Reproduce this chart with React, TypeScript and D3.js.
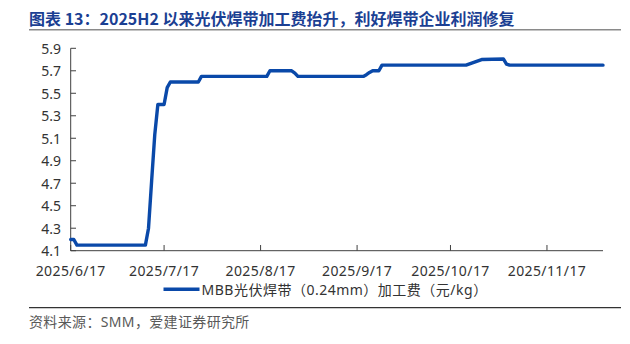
import React from "react";
import * as d3 from "d3";

const title = "图表 13：2025H2 以来光伏焊带加工费抬升，利好焊带企业利润修复";
const source = "资料来源：SMM，爱建证券研究所";
const legendLabel = "MBB光伏焊带（0.24mm）加工费（元/kg）";

const dayOffsets = [0, 1, 2, 24, 25, 26, 27, 28, 30, 31, 32, 41, 42, 63, 64, 71, 72, 73, 94, 95, 96, 97, 99, 100, 127, 132, 139, 140, 141, 171];
const values = [4.2, 4.2, 4.15, 4.15, 4.3, 4.72, 5.13, 5.4, 5.4, 5.55, 5.6, 5.6, 5.65, 5.65, 5.7, 5.7, 5.68, 5.65, 5.65, 5.665, 5.685, 5.7, 5.7, 5.75, 5.75, 5.8, 5.805, 5.76, 5.75, 5.75];
const yTicks = [4.1, 4.3, 4.5, 4.7, 4.9, 5.1, 5.3, 5.5, 5.7, 5.9];
const xTickLabels = ["2025/6/17", "2025/7/17", "2025/8/17", "2025/9/17", "2025/10/17", "2025/11/17"];

const startDate = new Date(2025, 5, 17);
const endDate = d3.timeDay.offset(startDate, 171);

export default function App() {
  const W = 630, H = 344;
  const x = d3.scaleTime().domain([startDate, endDate]).range([70.7, 603]);
  const y = d3.scaleLinear().domain([4.1, 5.9]).range([250.7, 48.3]);
  const pts = dayOffsets.map((d, i) => ({ date: d3.timeDay.offset(startDate, d), v: values[i] }));
  const line = d3.line<{ date: Date; v: number }>().x(d => x(d.date)).y(d => y(d.v));
  const xTicks = xTickLabels.map(s => {
    const [yy, mm, dd] = s.split("/").map(Number);
    return { date: new Date(yy, mm - 1, dd), label: s };
  });
  const numFont = "'Noto Sans', 'Noto Sans CJK SC', sans-serif";
  const cjkFont = "'Noto Sans CJK SC', 'Noto Sans', sans-serif";
  return (
    <svg width={W} height={H} style={{ position: "absolute", left: 0, top: 0, background: "#fff" }}>
      <text x={29} y={24.5} fontFamily={cjkFont} fontWeight={700} fontSize={16} fill="#1b3f93">{title}</text>
      <line x1={29} x2={621} y1={29.8} y2={29.8} stroke="#8a8a8a" strokeWidth={1.5} />
      {/* y axis */}
      <line x1={70.7} x2={70.7} y1={48.3} y2={250.7} stroke="#404040" strokeWidth={1} />
      {yTicks.map(t => (
        <g key={t}>
          <line x1={70.7} x2={76} y1={y(t)} y2={y(t)} stroke="#404040" strokeWidth={1} />
          <text x={61} y={y(t) + 5.3} textAnchor="end" fontFamily={numFont} fontSize={14} fill="#333">{t.toFixed(1)}</text>
        </g>
      ))}
      {/* x axis */}
      <line x1={70.7} x2={603} y1={250.7} y2={250.7} stroke="#404040" strokeWidth={1} />
      {xTicks.map(t => (
        <g key={t.label}>
          <line x1={x(t.date)} x2={x(t.date)} y1={245} y2={250.7} stroke="#404040" strokeWidth={1} />
          <text x={x(t.date)} y={275.5} textAnchor="middle" fontFamily={numFont} fontSize={14} letterSpacing={0.4} fill="#333">{t.label}</text>
        </g>
      ))}
      <path d={line(pts) || ""} fill="none" stroke="#0a49a9" strokeWidth={3.4} strokeLinejoin="round" strokeLinecap="round" />
      {/* legend */}
      <line x1={163.5} x2={199.5} y1={289.3} y2={289.3} stroke="#0a49a9" strokeWidth={3.4} />
      <text x={201.5} y={295} fontFamily={numFont} fontSize={14} letterSpacing={0.5} fill="#333">{legendLabel}</text>
      <line x1={29} x2={621} y1={307.7} y2={307.7} stroke="#333" strokeWidth={1.3} />
      <text x={29} y={327} fontFamily={numFont} fontSize={14} letterSpacing={0.35} fill="#595959">{source}</text>
    </svg>
  );
}
